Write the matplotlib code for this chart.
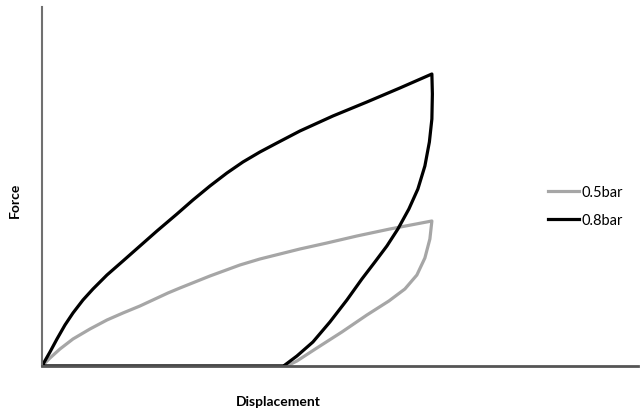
import matplotlib.pyplot as plt

# 0.8bar: loading, unloading, return along the axis
x_08 = [0, 8, 15, 23, 31, 41, 51, 65, 81, 98, 115, 135, 151, 168, 185, 201, 218, 235,
        258, 291, 325, 358, 390,
        390.5, 390, 387.5, 383, 376, 367, 356, 345, 333, 320, 305, 288, 271, 255, 243, 242, 0]
y_08 = [0, 14, 27, 41, 53, 66, 77, 91, 105, 120, 135, 152, 166, 180, 193, 204, 214, 223,
        235, 250, 264, 278, 292,
        272, 247, 224, 200, 177, 157, 137, 120, 104, 87, 66, 44, 24, 10, 1, 0, 0]

# 0.5bar
x_05 = [0, 8, 18, 31, 48, 65, 81, 98, 126, 138, 168, 198, 218, 238, 258, 285, 315, 348, 390,
        388, 383, 375, 363, 347, 325, 300, 275, 255, 245, 0]
y_05 = [0, 8, 17, 27, 37, 46, 53, 60, 73, 78, 90, 101, 107, 112, 117, 123, 130, 137, 145,
        127, 108, 91, 77, 65, 51, 34, 18, 5, 0, 0]

plt.rcParams['font.family'] = ['Lato', 'DejaVu Sans']

fig = plt.figure(figsize=(6.4, 4.1), dpi=100)
ax = fig.add_axes([0.0656, 0.1049, 0.931, 0.8756])

ax.plot(x_05, y_05, color='#a6a6a6', lw=2.3, label='0.5bar', solid_joinstyle='round')
ax.plot(x_08, y_08, color='black', lw=2.3, label='0.8bar', solid_joinstyle='round')

ax.set_xlim(0, 596)
ax.set_ylim(0, 359)
ax.set_xticks([])
ax.set_yticks([])
ax.spines['top'].set_visible(False)
ax.spines['right'].set_visible(False)
ax.spines['left'].set_color('#707070')
ax.spines['left'].set_linewidth(1.5)
ax.spines['bottom'].set_color('#555555')
ax.spines['bottom'].set_linewidth(2)

ax.set_ylabel('Force', fontsize=10, fontweight='bold', va='center')
ax.yaxis.set_label_coords(-0.045, 0.465)
ax.set_xlabel('Displacement', fontsize=10, fontweight='bold', va='center')
ax.xaxis.set_label_coords(0.396, -0.0975)

ax.legend(loc='center left', bbox_to_anchor=(0.85, 0.446), frameon=False,
          fontsize=10.5, handlelength=2.1, handletextpad=0.15, labelspacing=0.95,
          borderpad=0, borderaxespad=0)

fig.savefig('out.png', dpi=100)
